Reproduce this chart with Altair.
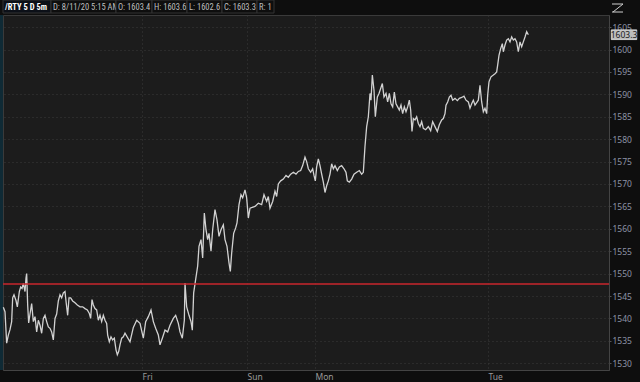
import altair as alt
import pandas as pd

# ---- data (5-minute bar index, last price) ----
bar = [
    # Thursday
    1, 6, 11, 16, 21, 26, 29, 33, 39, 43, 49, 53, 57, 61, 66, 69, 71, 74, 77, 81,
    86, 91, 96, 101, 106, 111, 116, 121, 126, 131, 136, 141, 146, 151, 156, 161, 166, 171, 176, 181,
    186, 189, 194, 198, 203, 209, 216, 223, 231, 239, 246, 253, 259, 263, 267, 271, 276, 281, 286, 291,
    296, 301, 306, 311, 314, 319, 324, 329, 334, 339, 343, 347, 351, 356, 361,
    # Friday
    366, 381, 391, 401, 411, 421, 428, 436, 444, 451, 458, 466, 471, 478, 486, 494, 501, 511, 518, 526,
    531, 538, 544, 546, 551, 558, 564, 568, 572, 578, 584, 588, 594, 599, 604, 609, 614, 618, 624, 629,
    636, 642, 648, 654, 661, 666, 672, 678, 682, 686, 692, 698, 702, 708, 714, 719, 726, 731, 736,
    # Sunday / Monday
    741, 756, 766, 776, 783, 791, 796, 801, 809, 816, 821, 826, 833, 841, 849, 856, 863, 871, 879, 886,
    893, 899, 906, 911, 916, 923, 929, 933, 937, 941, 946, 951, 956, 961, 966, 971, 976, 981, 986, 991,
    996, 1003, 1009, 1016, 1023, 1029, 1033, 1039, 1046, 1053, 1061, 1069, 1076, 1081,
    # Monday jump
    1086, 1091, 1096, 1101, 1104, 1108, 1113, 1117, 1123, 1128, 1133, 1138, 1143, 1149, 1154, 1159, 1164, 1169, 1174, 1179,
    1184, 1189, 1194, 1199, 1204, 1209, 1214, 1219, 1223, 1227, 1231, 1236, 1241, 1246, 1251, 1256, 1261, 1268, 1276, 1283,
    1289, 1296, 1303, 1309, 1316, 1321, 1326, 1329, 1334, 1339, 1344, 1349, 1356, 1363, 1369, 1376, 1383, 1389, 1396, 1401,
    1406, 1411,
    # Tuesday
    1416, 1426, 1431, 1436, 1441, 1446, 1451, 1454, 1458, 1464, 1471, 1476, 1481, 1484, 1488, 1493, 1498, 1501, 1506, 1511,
    1516, 1521, 1526, 1531, 1536, 1541, 1546, 1551, 1556, 1561, 1566, 1571, 1576,
]
price = [
    1542.5, 1541.5, 1534.5, 1536.3, 1537.5, 1539.3, 1544.6, 1545.3, 1544, 1542.6,
    1546, 1547, 1546.7, 1547.8, 1546, 1549, 1550, 1543, 1539, 1541,
    1543.3, 1539.3, 1540.4, 1537, 1539.6, 1538.5, 1536.7, 1540, 1540.7, 1539.3,
    1538.1, 1537.8, 1537, 1535.2, 1540, 1541, 1543.9, 1545.3, 1544.6, 1545.7,
    1546, 1543.9, 1540.7, 1544.6, 1544.6, 1543.9, 1543.5, 1543, 1542.6, 1542.6,
    1542.2, 1541.9, 1541.1, 1540, 1544.2, 1543, 1542.2, 1541.9, 1539.6, 1540.7,
    1539.3, 1540.7, 1539.6, 1538.9, 1536.3, 1534.8, 1535.9, 1535.2, 1535.6, 1533,
    1531.9, 1532.6, 1534.1, 1535.6, 1535.9,
    1536.7, 1534.8, 1538, 1539.6, 1538.9, 1535.6, 1539.3, 1540.4, 1541.9, 1539.3,
    1537.8, 1536.3, 1534.1, 1535.6, 1537.4, 1537, 1538.5, 1540, 1540.7, 1538.9,
    1537, 1535.6, 1539.6, 1547.9, 1542.6, 1540.7, 1539.3, 1537.4, 1545.7, 1548.7,
    1551.7, 1556.1, 1557.6, 1553.5, 1563.5, 1559.8, 1557.6, 1559, 1555, 1559.8,
    1564.3, 1562, 1558.3, 1559.8, 1560.9, 1557.6, 1556.1, 1552.4, 1550.5, 1554.6,
    1559, 1560.2, 1561.3, 1565.4, 1567.6, 1566.9, 1568.7, 1566.9, 1562.4,
    1564.6, 1565, 1565.7, 1565.4, 1567.6, 1566.1, 1567.2, 1564.6, 1566.1, 1568.4,
    1567.2, 1570, 1570.7, 1571.1, 1571.9, 1571.5, 1572.2, 1572.6, 1572.2, 1572.8,
    1573, 1574.1, 1576, 1575, 1573.4, 1572.6, 1573.4, 1571.9, 1570.7, 1573.8,
    1575.6, 1574.1, 1572.2, 1570.4, 1568.1, 1569.6, 1570.7, 1572.2, 1574.5, 1573.4,
    1574.1, 1573, 1573.8, 1574.1, 1573.4, 1572.6, 1570.7, 1570.4, 1571.1, 1572.2,
    1572.6, 1573, 1572.2, 1572.6,
    1578.4, 1582.8, 1585, 1590.2, 1588.7, 1594.3, 1590.9, 1585, 1589.4, 1590.2,
    1591.3, 1592.4, 1589.4, 1590.2, 1588.3, 1590.2, 1587.9, 1587.2, 1590.5, 1587.9,
    1587.2, 1586.5, 1587.6, 1585.7, 1587.2, 1586.1, 1587.2, 1588.7, 1586.5, 1581.7,
    1584.6, 1584.3, 1585, 1583.5, 1582.8, 1583.9, 1582.4, 1582.1, 1582.8, 1581.9,
    1583.9, 1582.8, 1581.7, 1583.2, 1584.3, 1584.6, 1585.7, 1587.6, 1588.3, 1589.4,
    1589.8, 1588.7, 1589.1, 1588.6, 1589.1, 1589.3, 1589.6, 1588.7, 1588.3, 1586.9,
    1587.9, 1588.7,
    1587.6, 1588.7, 1592, 1588.3, 1586.1, 1586.9, 1585.7, 1589.8, 1592.8, 1593.9,
    1594.3, 1594.6, 1595, 1596.5, 1598.7, 1600.2, 1601.3, 1599.5, 1601, 1602.1,
    1602.4, 1601.7, 1602.8, 1602.1, 1602.4, 1601.7, 1599.5, 1601.7, 1600.6, 1601.7,
    1602.8, 1604, 1603.3,
]
day_ticks = [417, 732, 936, 1455]
day_labels = ["Fri", "Sun", "Mon", "Tue"]
price_ticks = [1530, 1535, 1540, 1545, 1550, 1555, 1560, 1565, 1570, 1575, 1580,
               1585, 1590, 1595, 1600, 1605]
ref_level = 1547.7
last_price = 1603.3
header_labels = ["/RTY 5 D 5m", "D: 8/11/20 5:15 AM", "O: 1603.4", "H: 1603.6",
                 "L: 1602.6", "C: 1603.3", "R: 1"]

# ---- layout (pixels) ----
W, H = 606, 355
header_box_edges = [0, 48, 113, 149, 184, 219, 254, 271]
x_domain = [0, 1818]
y_domain = [1528.5, 1607.7]
FONT = "Noto Sans"
HFONT = "Liberation Sans Narrow, Roboto Condensed, Liberation Sans"

df = pd.DataFrame({"bar": bar, "price": price})

xscale = alt.Scale(domain=x_domain, nice=False, zero=False)
yscale = alt.Scale(domain=y_domain, nice=False, zero=False)

label_map = "{" + ",".join(f"'{t}':'{l}'" for t, l in zip(day_ticks, day_labels)) + "}"

y_axis = alt.Axis(orient="right", values=price_ticks, format="d", labelOverlap=False,
                  labelFlush=False, labelPadding=1, tickSize=2, tickCount=16,
                  tickColor="#555555", labelColor="#8d93a6", labelFontSize=8.5,
                  labelFont=FONT, grid=True, gridColor="#3a3a3a", gridDash=[1, 3],
                  domain=True, domainColor="#444444")

line = alt.Chart(df).mark_line(color="#d2d2d2", strokeWidth=1.3).encode(
    x=alt.X("bar:Q", scale=xscale, title=None,
            axis=alt.Axis(values=day_ticks, labelExpr=f"{label_map}[datum.value]",
                          labelAlign="left", labelPadding=2, ticks=False,
                          labelColor="#9a9a9a", labelFontSize=8.5, labelFont=FONT,
                          grid=True, gridColor="#3a3a3a", gridDash=[1, 3],
                          domain=True, domainColor="#444444")),
    y=alt.Y("price:Q", scale=yscale, title=None, axis=y_axis),
)

rule = alt.Chart(pd.DataFrame({"price": [ref_level]})).mark_rule(
    color="#c9262c", strokeWidth=1.5).encode(
    y=alt.Y("price:Q", scale=yscale, title=None, axis=y_axis))

bubble = alt.Chart(pd.DataFrame({"price": [last_price]})).mark_point(
    shape="M-1,-0.38L1,-0.38L1,0.38L-1,0.38Z", size=650, filled=True,
    fill="#bdbdbd", stroke="#e6e6e6", strokeWidth=0.8, opacity=1).encode(
    x=alt.value(W + 15), y=alt.Y("price:Q", scale=yscale, title=None, axis=y_axis))
bubble_txt = alt.Chart(pd.DataFrame({"price": [last_price]})).mark_text(
    font=FONT, fontSize=8.5, color="#1a1a1a", align="center", baseline="middle").encode(
    x=alt.value(W + 15), y=alt.Y("price:Q", scale=yscale, title=None, axis=y_axis),
    text=alt.Text("price:Q", format=".1f"))

# header boxes and texts
header_layers = []
for i, lab in enumerate(header_labels):
    x0, x1 = header_box_edges[i], header_box_edges[i + 1]
    header_layers.append(
        alt.Chart(pd.DataFrame({"t": [lab]})).mark_rect(
            fill="#0c1018" if i == 0 else "#0e0e0e", stroke="#333333", strokeWidth=1).encode(
            x=alt.value(x0), x2=alt.value(x1), y=alt.value(-15), y2=alt.value(-2)))
    header_layers.append(
        alt.Chart(pd.DataFrame({"t": [lab]})).mark_text(
            font=HFONT, fontSize=8.5, fontWeight="bold" if i == 0 else "normal",
            color="#ffffff" if i == 0 else "#bfbfbf", align="left", baseline="middle").encode(
            x=alt.value(x0 + 2), y=alt.value(-8), text="t:N"))

# left edge strip and zoom icon
strip = alt.Chart(pd.DataFrame({"a": [0]})).mark_rect(fill="#0f2a35").encode(
    x=alt.value(-3), x2=alt.value(0), y=alt.value(0), y2=alt.value(H))
icon = [
    alt.Chart(pd.DataFrame({"a": [0]})).mark_rule(color="#cfcfcf", strokeWidth=1).encode(
        x=alt.value(x1), x2=alt.value(x2), y=alt.value(y1), y2=alt.value(y2))
    for (x1, y1, x2, y2) in [(609, -11, 620, -11), (620, -11, 610, -3), (609, -3, 620, -3)]
]

chart = alt.layer(strip, line, rule, bubble, bubble_txt, *header_layers, *icon).properties(
    width=W, height=H,
    padding={"left": 3, "top": 15, "right": 31, "bottom": 12},
    autosize=alt.AutoSizeParams(type="none"),
    background="#0e0e0e",
).configure_view(fill="#1c1c1c", stroke="#3a3a3a")

chart.save("out.html", embed_options={"renderer": "svg", "actions": False})
